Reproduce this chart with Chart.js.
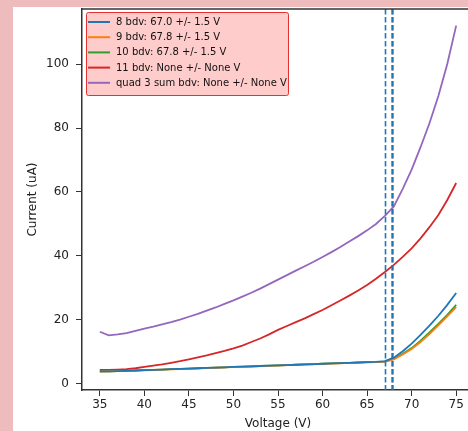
<!DOCTYPE html>
<html>
<head>
<meta charset="utf-8">
<script src="https://cdn.jsdelivr.net/npm/chart.js@4"></script>
<style>
  html, body { margin: 0; padding: 0; background: #eebcbc; overflow: hidden; }
  #wrap { position: absolute; left: 13px; top: 7px; width: 461px; height: 424px; background: #fff; }
</style>
</head>
<body>
<div id="wrap"><canvas id="ivChart"></canvas></div>
<script>
// IV curves, quad 3
const voltage = [35, 36, 37, 38, 39, 40, 41, 42, 43, 44, 45, 46, 47, 48, 49, 50, 51, 52, 53, 54, 55,
  56, 57, 58, 59, 60, 61, 62, 63, 64, 65, 66, 67, 68, 69, 70, 71, 72, 73, 74, 75];

const ch8 = [3.9, 3.95, 4.0, 4.1, 4.2, 4.3, 4.4, 4.5, 4.6, 4.7, 4.8, 4.9, 5.0, 5.1, 5.2, 5.3, 5.4, 5.5, 5.6, 5.7, 5.8,
  5.9, 6.0, 6.1, 6.2, 6.3, 6.4, 6.5, 6.6, 6.7, 6.8, 6.9, 7.1, 8.2, 10.2, 12.6, 15.3, 18.2, 21.3, 24.7, 28.4];
const ch9 = [3.85, 3.9, 4.0, 4.05, 4.15, 4.25, 4.35, 4.45, 4.55, 4.65, 4.75, 4.85, 4.95, 5.05, 5.15, 5.25, 5.35, 5.45, 5.55, 5.65, 5.75,
  5.85, 5.95, 6.05, 6.15, 6.25, 6.35, 6.45, 6.55, 6.65, 6.75, 6.85, 7.0, 7.7, 9.2, 10.9, 13.1, 15.6, 18.3, 21.1, 24.0];
const ch10 = [3.9, 3.95, 4.0, 4.1, 4.2, 4.3, 4.4, 4.5, 4.6, 4.7, 4.8, 4.9, 5.0, 5.1, 5.2, 5.3, 5.4, 5.5, 5.6, 5.7, 5.8,
  5.9, 6.0, 6.1, 6.2, 6.3, 6.4, 6.5, 6.6, 6.7, 6.8, 6.9, 7.0, 7.8, 9.4, 11.2, 13.5, 16.1, 18.8, 21.6, 24.7];
const ch11 = [4.4, 4.4, 4.5, 4.6, 4.9, 5.3, 5.7, 6.1, 6.6, 7.1, 7.7, 8.3, 8.9, 9.6, 10.3, 11.1, 12.0, 13.1, 14.2, 15.5, 16.9,
  18.1, 19.3, 20.5, 21.8, 23.1, 24.6, 26.1, 27.6, 29.2, 30.9, 32.9, 35.0, 37.2, 39.7, 42.4, 45.5, 49.0, 52.8, 57.5, 62.8];
const quadSum = [16.3, 15.2, 15.5, 15.9, 16.6, 17.3, 17.9, 18.6, 19.3, 20.1, 21.0, 21.9, 22.9, 23.9, 25.0, 26.1, 27.3, 28.5, 29.8, 31.2, 32.6,
  34.0, 35.4, 36.8, 38.2, 39.7, 41.2, 42.8, 44.5, 46.2, 48.0, 50.0, 52.5, 55.5, 61.0, 67.0, 74.0, 81.5, 90.0, 100.0, 112.0];

const seriesLabels = ["8 bdv: 67.0 +/- 1.5 V", "9 bdv: 67.8 +/- 1.5 V", "10 bdv: 67.8 +/- 1.5 V",
  "11 bdv: None +/- None V", "quad 3 sum bdv: None +/- None V"];
const seriesColors = ["#1f77b4", "#ff7f0e", "#2ca02c", "#d62728", "#9467bd"];
const bdvLines = [67.0, 67.8];

const xTicks = [35, 40, 45, 50, 55, 60, 65, 70, 75];
const yTicks = [0, 20, 40, 60, 80, 100];

const allSeries = [ch8, ch9, ch10, ch11, quadSum];
const datasets = allSeries.map((vals, i) => ({
  label: seriesLabels[i],
  data: vals.map((v, j) => ({ x: voltage[j], y: v })),
  borderColor: seriesColors[i],
  borderWidth: 1.8,
  pointRadius: 0,
  tension: 0,
  fill: false
}));

// vertical bdv lines, top frame and the boxed legend
const extras = {
  id: "extras",
  afterDatasetsDraw(chart) {
    const ctx = chart.ctx;
    const a = chart.chartArea;
    const xs = chart.scales.x;
    ctx.save();
    // bdv markers
    bdvLines.forEach((v, i) => {
      const px = Math.round(xs.getPixelForValue(v)) + 0.5;
      if (i === 1) {
        ctx.strokeStyle = "rgba(214,39,40,0.55)";
        ctx.lineWidth = 3;
        ctx.setLineDash([5.5, 2.5]);
        ctx.beginPath(); ctx.moveTo(px, a.top); ctx.lineTo(px, a.bottom); ctx.stroke();
      }
      ctx.strokeStyle = "#1f77b4";
      ctx.lineWidth = 1.6;
      ctx.setLineDash([5.5, 2.5]);
      ctx.beginPath(); ctx.moveTo(px, a.top); ctx.lineTo(px, a.bottom); ctx.stroke();
    });
    ctx.setLineDash([]);
    // top spine
    ctx.strokeStyle = "#333";
    ctx.lineWidth = 1.5;
    ctx.beginPath(); ctx.moveTo(a.left, a.top); ctx.lineTo(a.right, a.top); ctx.stroke();

    // legend
    const bx = a.left + 4, by = a.top + 3, bw = 202, bh = 83;
    ctx.fillStyle = "rgba(255,200,200,0.92)";
    ctx.strokeStyle = "#e83030";
    ctx.lineWidth = 1;
    ctx.beginPath();
    ctx.roundRect(bx + 0.5, by + 0.5, bw, bh, 2);
    ctx.fill();
    ctx.stroke();
    ctx.font = "10px 'DejaVu Sans'";
    ctx.textBaseline = "middle";
    seriesLabels.forEach((lab, i) => {
      const ry = by + 10 + i * 15.2;
      ctx.strokeStyle = seriesColors[i];
      ctx.lineWidth = 2;
      ctx.beginPath(); ctx.moveTo(bx + 2, ry); ctx.lineTo(bx + 24, ry); ctx.stroke();
      ctx.fillStyle = "#111";
      ctx.fillText(lab, bx + 30, ry + 0.5);
    });
    ctx.restore();
  }
};

const ctx = document.getElementById("ivChart").getContext("2d");
new Chart(ctx, {
  type: "line",
  data: { datasets: datasets },
  options: {
    responsive: true,
    maintainAspectRatio: false,
    animation: false,
    layout: { padding: { top: 2, right: 0, left: 0, bottom: 0 } },
    plugins: { legend: { display: false }, tooltip: { enabled: false } },
    scales: {
      x: {
        type: "linear",
        min: 33,
        max: 77,
        afterBuildTicks: (s) => { s.ticks = xTicks.map(v => ({ value: v })); },
        afterFit: (s) => { s.height = 41; s.paddingLeft = 0; s.paddingRight = 0; },
        grid: { drawOnChartArea: false, drawTicks: true, tickLength: 6, color: "#333" },
        border: { display: true, color: "#333", width: 1.5 },
        ticks: { color: "#222", padding: 2, maxRotation: 0, font: { family: "DejaVu Sans", size: 12 } },
        title: { display: true, text: "Voltage (V)", color: "#222", padding: { top: 0, bottom: 0 },
          font: { family: "DejaVu Sans", size: 12 } }
      },
      y: {
        type: "linear",
        min: -1.9,
        max: 117.2,
        afterBuildTicks: (s) => { s.ticks = yTicks.map(v => ({ value: v })); },
        afterFit: (s) => { s.width = 69; s.paddingTop = 0; s.paddingBottom = 0; },
        grid: { drawOnChartArea: false, drawTicks: true, tickLength: 6, color: "#333" },
        border: { display: true, color: "#333", width: 1.5 },
        ticks: { color: "#222", padding: 7, font: { family: "DejaVu Sans", size: 12 } },
        title: { display: true, text: "Current (uA)", color: "#222", padding: { top: 13, bottom: 0 },
          font: { family: "DejaVu Sans", size: 12 } }
      }
    }
  },
  plugins: [extras]
});
</script>
</body>
</html>
